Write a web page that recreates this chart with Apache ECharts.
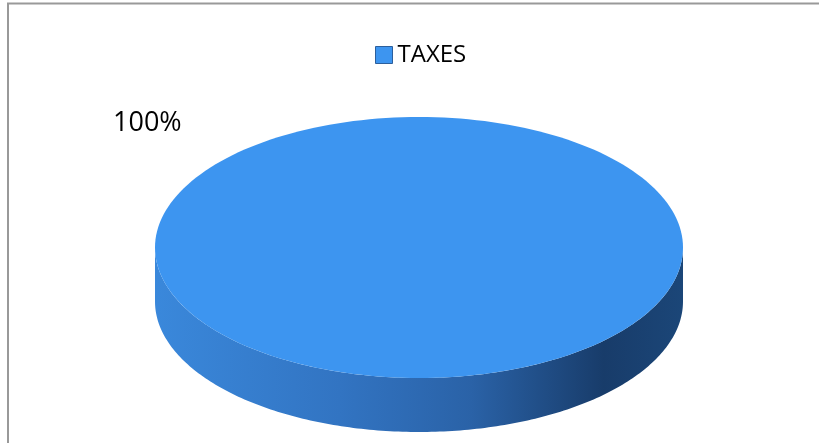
<!DOCTYPE html>
<html>
<head>
<meta charset="utf-8">
<style>
  html, body { margin: 0; padding: 0; background: #fff; }
  #chart { width: 819px; height: 443px; }
</style>
<script src="https://cdn.jsdelivr.net/npm/echarts@6/dist/echarts.min.js"></script>
</head>
<body>
<div id="chart"></div>
<script>
var categories = ['TAXES'];
var values = [100];

var total = values.reduce(function (a, b) { return a + b; }, 0);
var font = '"Open Sans", "Liberation Sans", sans-serif';

// pie layout (3d look: flattened ellipse plus a side wall)
var cx = 419, cy = 247.5, rx = 264, ry = 130.5, depth = 54;

function ellipsePoint(a, dy) {
  return [cx + rx * Math.cos(a), cy + ry * Math.sin(a) + dy];
}

function renderSlice(params, api) {
  var i = params.dataIndex;
  var before = 0;
  for (var k = 0; k < i; k++) before += values[k];
  var v = api.value(0);
  var a0 = -Math.PI / 2 + before / total * Math.PI * 2;
  var a1 = a0 + v / total * Math.PI * 2;
  var full = v === total;
  var steps = 200;
  var children = [];

  // side wall: only the front half is visible
  var lo = Math.max(a0, 0), hi = Math.min(a1, Math.PI);
  if (lo < hi) {
    var side = [], t, j;
    for (j = 0; j <= steps; j++) {
      t = lo + (hi - lo) * j / steps;
      side.push(ellipsePoint(t, 0));
    }
    for (j = steps; j >= 0; j--) {
      t = lo + (hi - lo) * j / steps;
      side.push(ellipsePoint(t, depth));
    }
    children.push({
      type: 'polygon',
      shape: { points: side },
      style: {
        fill: new echarts.graphic.LinearGradient(0, 0, 1, 0, [
          { offset: 0, color: '#3a88db' },
          { offset: 0.35, color: '#3274c2' },
          { offset: 0.6, color: '#2a62a7' },
          { offset: 0.85, color: '#183c6a' },
          { offset: 1, color: '#1b4678' }
        ])
      }
    });
  }

  // top face
  var top = [];
  if (!full) top.push([cx, cy]);
  for (var n = 0; n <= steps; n++) {
    top.push(ellipsePoint(a0 + (a1 - a0) * n / steps, 0));
  }
  children.push({
    type: 'polygon',
    shape: { points: top },
    style: { fill: api.visual('color') }
  });

  // percentage label
  children.push({
    type: 'text',
    x: cx - 306,
    y: cy - 124,
    style: {
      text: Math.round(v / total * 100) + '%',
      font: '27px ' + font,
      fill: '#000',
      align: 'left',
      verticalAlign: 'middle'
    }
  });

  return { type: 'group', children: children };
}

var chart = echarts.init(document.getElementById('chart'), null, { renderer: 'canvas' });
chart.setOption({
  animation: false,
  backgroundColor: '#fff',
  graphic: [{
    type: 'rect',
    shape: { x: 8, y: 3.5, width: 900, height: 500 },
    style: { fill: 'none', stroke: '#999', lineWidth: 2 },
    silent: true
  }],
  legend: {
    left: 370,
    top: 38,
    itemWidth: 17,
    itemHeight: 17,
    itemGap: 10,
    icon: 'rect',
    itemStyle: { borderColor: '#2c5f9c', borderWidth: 1 },
    textStyle: { fontFamily: font, fontSize: 24, color: '#000', padding: [0, 0, 0, 0] },
    data: categories
  },
  series: [{
    name: categories[0],
    type: 'custom',
    coordinateSystem: 'none',
    itemStyle: { color: '#3d95f0' },
    renderItem: renderSlice,
    data: values.map(function (v) { return [v]; })
  }]
});
</script>
</body>
</html>
